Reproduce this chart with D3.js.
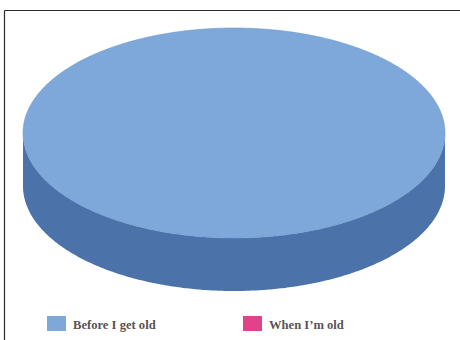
<!DOCTYPE html>
<html>
<head>
<meta charset="utf-8">
<script src="https://cdn.jsdelivr.net/npm/d3@7"></script>
<style>
  html, body { margin: 0; padding: 0; background: #fff; }
  svg { display: block; }
</style>
</head>
<body>
<svg id="chart" width="460" height="340"></svg>
<script>
// ---- data ----
const categories = ["Before I get old", "When I\u2019m old"];
const values = [100, 0];
const colors = ["#7ea8da", "#e2428a"];
const sideColors = ["#4b73a9", "#a8305f"];

const svg = d3.select("#chart");

// frame
svg.append("line").attr("x1", 4.5).attr("y1", 10.5).attr("x2", 460).attr("y2", 10.5)
  .attr("stroke", "#2a2a2a").attr("stroke-width", 1.2);
svg.append("line").attr("x1", 4.5).attr("y1", 10.5).attr("x2", 4.5).attr("y2", 340)
  .attr("stroke", "#2a2a2a").attr("stroke-width", 1.2);

// 3D pie geometry
const cx = 234, cy = 133, rx = 211, ry = 105, depth = 53;
const pie = d3.pie().sort(null).value(d => d)(values);

const px = a => cx + rx * Math.sin(a);
const py = a => cy - ry * Math.cos(a);

function topPath(a0, a1) {
  const n = Math.max(2, Math.ceil((a1 - a0) / 0.01));
  const pts = d3.range(n + 1).map(i => a0 + (a1 - a0) * i / n);
  let p = "";
  const full = (a1 - a0) >= 2 * Math.PI - 1e-6;
  if (!full) p += `M${cx},${cy}L${px(pts[0])},${py(pts[0])}`;
  else p += `M${px(pts[0])},${py(pts[0])}`;
  pts.forEach(a => { p += `L${px(a)},${py(a)}`; });
  return p + "Z";
}
function sidePath(a0, a1) {
  const s = Math.max(a0, Math.PI / 2), e = Math.min(a1, 3 * Math.PI / 2);
  if (e <= s) return null;
  const n = Math.max(2, Math.ceil((e - s) / 0.01));
  const pts = d3.range(n + 1).map(i => s + (e - s) * i / n);
  let p = `M${px(pts[0])},${py(pts[0])}`;
  pts.forEach(a => { p += `L${px(a)},${py(a)}`; });
  pts.slice().reverse().forEach(a => { p += `L${px(a)},${py(a) + depth}`; });
  return p + "Z";
}

const g = svg.append("g");
pie.forEach((d, i) => {
  if (d.endAngle - d.startAngle <= 0) return;
  const sp = sidePath(d.startAngle, d.endAngle);
  if (sp) g.append("path").attr("d", sp).attr("fill", sideColors[i]);
});
pie.forEach((d, i) => {
  if (d.endAngle - d.startAngle <= 0) return;
  g.append("path").attr("d", topPath(d.startAngle, d.endAngle))
    .attr("fill", colors[i]).attr("stroke", "#6f98cc").attr("stroke-width", 0.6);
});

// legend
const legendX = [47, 243];
const leg = svg.append("g");
categories.forEach((c, i) => {
  leg.append("rect").attr("x", legendX[i]).attr("y", 316).attr("width", 19).attr("height", 15)
    .attr("fill", colors[i]);
  leg.append("text").attr("x", legendX[i] + 26).attr("y", 328.5)
    .attr("font-family", "'Liberation Serif', 'DejaVu Serif', serif")
    .attr("font-weight", "bold").attr("font-size", 12.6)
    .attr("fill", "#5a5353").text(c);
});
</script>
</body>
</html>
